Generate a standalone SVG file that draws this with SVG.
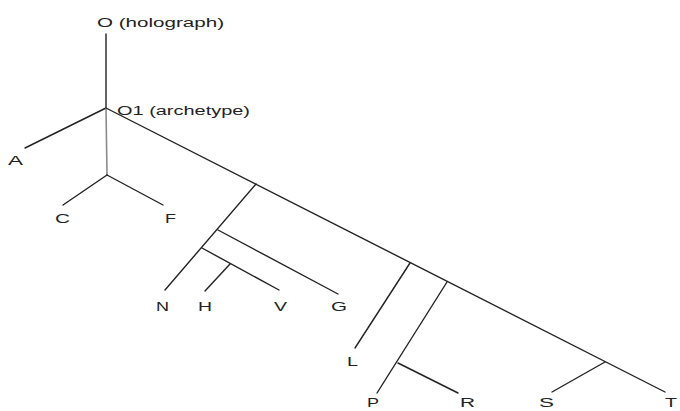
<svg xmlns="http://www.w3.org/2000/svg" width="680" height="411" viewBox="0 0 680 411">
  <style>
    .edge { stroke: #222; stroke-width: 1.4; fill: none; stroke-linecap: round; }
    .soft { stroke: #8a8a8a; stroke-width: 1.6; }
    text { font-family: "Liberation Sans", Arial, sans-serif; font-size: 12.5px; fill: #222; }
  </style>
  <rect width="680" height="411" fill="#ffffff"/>

  <!-- stemma branches -->
  <g id="connectors">
    <line class="edge" x1="106" y1="34" x2="106" y2="108"/>
    <line class="edge" x1="106" y1="108" x2="25" y2="148"/>
    <line class="edge soft" x1="106" y1="108" x2="107" y2="175"/>
    <line class="edge" x1="107" y1="175" x2="63" y2="205"/>
    <line class="edge" x1="107" y1="175" x2="163" y2="205"/>
    <line class="edge" x1="106" y1="108" x2="665" y2="392"/>
    <line class="edge" x1="256" y1="184" x2="165" y2="290"/>
    <line class="edge" x1="218" y1="230" x2="338" y2="294"/>
    <line class="edge" x1="202" y1="248" x2="279" y2="290"/>
    <line class="edge" x1="230" y1="264" x2="205" y2="291"/>
    <line class="edge" x1="410" y1="263" x2="355" y2="348"/>
    <line class="edge" x1="447" y1="282" x2="377" y2="393"/>
    <line class="edge" x1="398" y1="363" x2="458" y2="393"/>
    <line class="edge" x1="605" y1="362" x2="552" y2="392"/>
  </g>

  <g id="node-O"><text x="97" y="27" textLength="127" lengthAdjust="spacingAndGlyphs">O (holograph)</text></g>
  <g id="node-O1"><text x="117" y="115" textLength="133" lengthAdjust="spacingAndGlyphs">O1 (archetype)</text></g>
  <g id="node-A"><text x="8" y="165" textLength="15" lengthAdjust="spacingAndGlyphs">A</text></g>
  <g id="node-C"><text x="55" y="223" textLength="15" lengthAdjust="spacingAndGlyphs">C</text></g>
  <g id="node-F"><text x="165" y="223" textLength="11" lengthAdjust="spacingAndGlyphs">F</text></g>
  <g id="node-N"><text x="156" y="311" textLength="13" lengthAdjust="spacingAndGlyphs">N</text></g>
  <g id="node-H"><text x="198" y="311" textLength="14" lengthAdjust="spacingAndGlyphs">H</text></g>
  <g id="node-V"><text x="274" y="311" textLength="13" lengthAdjust="spacingAndGlyphs">V</text></g>
  <g id="node-G"><text x="331" y="311" textLength="16" lengthAdjust="spacingAndGlyphs">G</text></g>
  <g id="node-L"><text x="347" y="366" textLength="11" lengthAdjust="spacingAndGlyphs">L</text></g>
  <g id="node-P"><text x="367" y="407" textLength="12" lengthAdjust="spacingAndGlyphs">P</text></g>
  <g id="node-R"><text x="460" y="407" textLength="15" lengthAdjust="spacingAndGlyphs">R</text></g>
  <g id="node-S"><text x="539" y="407" textLength="15" lengthAdjust="spacingAndGlyphs">S</text></g>
  <g id="node-T"><text x="665" y="407" textLength="12" lengthAdjust="spacingAndGlyphs">T</text></g>
</svg>
